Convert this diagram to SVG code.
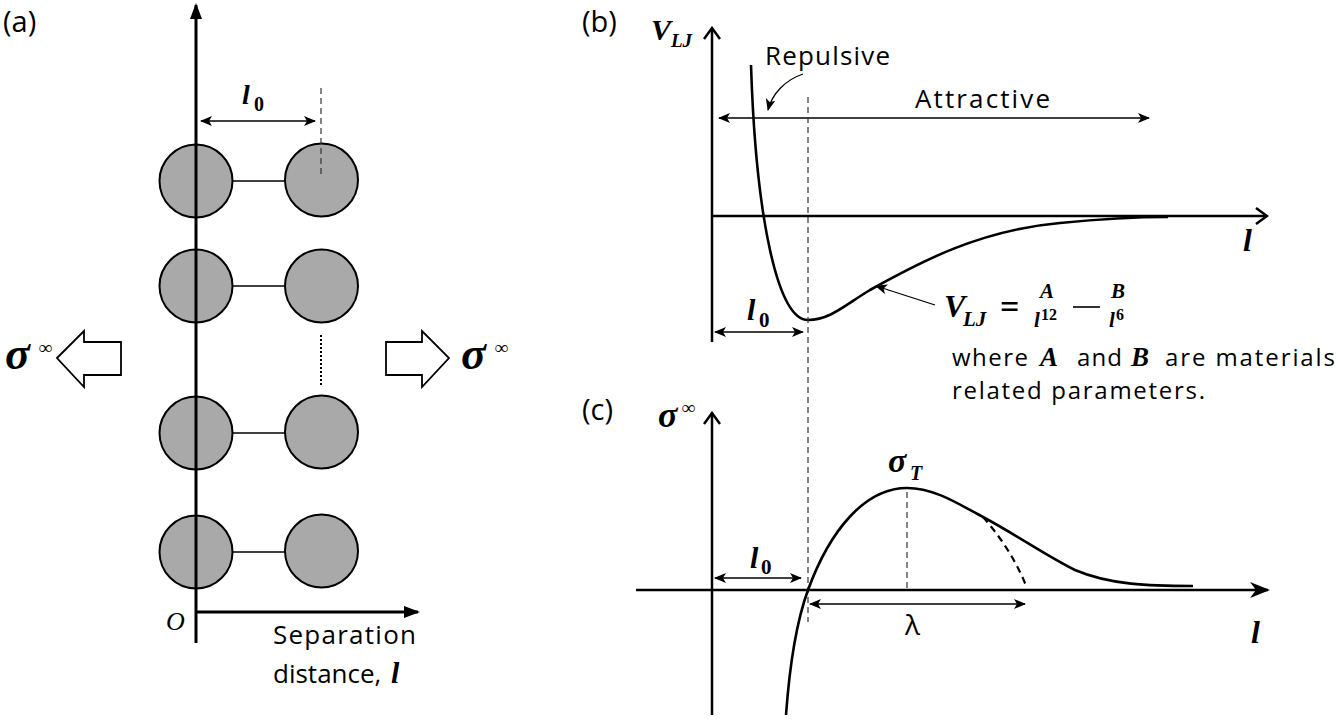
<svg xmlns="http://www.w3.org/2000/svg" width="1340" height="720" viewBox="0 0 1340 720">
<style>
.ax{stroke:#000;stroke-width:3;fill:none}
.ax2{stroke:#000;stroke-width:2.5;fill:none}
.dim{stroke:#000;stroke-width:1.3;fill:none}
.dash{stroke:#333;stroke-width:1.2;fill:none;stroke-dasharray:6 4}
.curve{stroke:#000;stroke-width:2.6;fill:none}
.atom{fill:#a9a9a9;stroke:#000;stroke-width:2}
.bond{stroke:#000;stroke-width:1.6}
.lbl{font-family:"Open Sans","Noto Sans",sans-serif;fill:#000}
.m{font-family:"Liberation Serif",serif;font-weight:bold;font-style:italic;fill:#000}
.mu{font-family:"Liberation Serif",serif;font-weight:bold;fill:#000}
</style>
<defs>
<marker id="axA" markerUnits="userSpaceOnUse" markerWidth="16" markerHeight="14" viewBox="0 0 16 14" refX="14" refY="7" orient="auto"><path d="M0,1 L16,7 L0,13 Z" fill="#000"/></marker>
<marker id="chev" markerUnits="userSpaceOnUse" markerWidth="14" markerHeight="18" viewBox="0 0 14 18" refX="12" refY="9" orient="auto"><path d="M1,1 L12,9 L1,17" fill="none" stroke="#000" stroke-width="2.5"/></marker>
<marker id="stealth" markerUnits="userSpaceOnUse" markerWidth="20" markerHeight="16" viewBox="0 0 20 16" refX="18" refY="8" orient="auto"><path d="M0,0 L20,8 L0,16 L6,8 Z" fill="#000"/></marker>
<marker id="sm" markerUnits="userSpaceOnUse" markerWidth="12" markerHeight="10" viewBox="0 0 12 10" refX="11" refY="5" orient="auto-start-reverse"><path d="M0,0 L12,5 L0,10 L3,5 Z" fill="#000"/></marker>
</defs>
<rect width="1340" height="720" fill="#fff"/>

<g id="panel-a">
  <text class="lbl" x="3" y="32" font-size="29">(a)</text>
  <g id="atoms">
    <line class="bond" x1="233" y1="181" x2="285" y2="181"/>
    <line class="bond" x1="233" y1="286" x2="285" y2="286"/>
    <line class="bond" x1="233" y1="433" x2="285" y2="433"/>
    <line class="bond" x1="233" y1="552" x2="285" y2="552"/>
    <circle class="atom" cx="196" cy="181" r="36.5"/>
    <circle class="atom" cx="321.5" cy="180" r="36.5"/>
    <circle class="atom" cx="196" cy="286" r="36.5"/>
    <circle class="atom" cx="321.5" cy="286" r="36.5"/>
    <circle class="atom" cx="196" cy="433" r="36.5"/>
    <circle class="atom" cx="321.5" cy="432" r="36.5"/>
    <circle class="atom" cx="196" cy="552" r="36.5"/>
    <circle class="atom" cx="321.5" cy="551" r="36.5"/>
    <line x1="321" y1="335" x2="321" y2="386" stroke="#000" stroke-width="2" stroke-dasharray="2 2"/>
  </g>
  <g id="axes-a">
    <line class="ax" x1="196" y1="643" x2="196" y2="5" marker-end="url(#axA)"/>
    <line class="ax" x1="196" y1="612" x2="418" y2="612" marker-end="url(#axA)"/>
  </g>
  <line class="dash" x1="321" y1="88" x2="321" y2="178"/>
  <line class="dim" x1="201" y1="121" x2="315" y2="121" marker-start="url(#sm)" marker-end="url(#sm)"/>
  <text class="m" x="242" y="104" font-size="28">l</text><text class="mu" x="254" y="111" font-size="20">0</text>
  <text class="m" x="166" y="630" font-size="26" style="font-weight:normal">O</text>
  <text class="lbl" x="273" y="644" font-size="26" textLength="143">Separation</text>
  <text class="lbl" x="273" y="683" font-size="26">distance,</text>
  <text class="m" x="391" y="683" font-size="30">l</text>
  <g id="load-left">
    <polygon points="57,358 84,331 84,342 121,342 121,375 84,375 84,387" fill="#fff" stroke="#000" stroke-width="1.8"/>
    <text class="m" x="5" y="369" font-size="46">σ</text><text class="mu" x="39" y="354" font-size="19">∞</text>
  </g>
  <g id="load-right">
    <polygon points="386,342 422,342 422,331 449,358 422,387 422,375 386,375" fill="#fff" stroke="#000" stroke-width="1.8"/>
    <text class="m" x="461" y="369" font-size="46">σ</text><text class="mu" x="495" y="354" font-size="19">∞</text>
  </g>
</g>

<g id="panel-b">
  <text class="lbl" x="582" y="32" font-size="29">(b)</text>
  <g id="axes-b">
    <line class="ax2" x1="712" y1="342" x2="712" y2="28" marker-end="url(#chev)"/>
    <line class="ax2" x1="712" y1="216" x2="1267" y2="216" marker-end="url(#chev)"/>
  </g>
  <text class="m" x="651" y="40" font-size="30">V</text><text class="m" x="671" y="47" font-size="19">LJ</text>
  <text class="m" x="1243" y="251" font-size="32">l</text>
  <path class="curve" d="M751,65 C756,220 778,320 808,320 C830,320 845,305 870,290 C920,262 980,230 1060,223 C1100,219 1140,217 1168,217"/>
  <text class="lbl" x="765" y="65" font-size="26" textLength="125">Repulsive</text>
  <path class="dim" d="M803,74 C785,80 772,94 768,110" marker-end="url(#sm)"/>
  <line class="dim" x1="719" y1="118" x2="1149" y2="118" marker-start="url(#sm)" marker-end="url(#sm)"/>
  <text class="lbl" x="915" y="108" font-size="26" textLength="135">Attractive</text>
  <line class="dim" x1="715" y1="332" x2="803" y2="332" marker-start="url(#sm)" marker-end="url(#sm)"/>
  <text class="m" x="747" y="320" font-size="30">l</text><text class="mu" x="759" y="327" font-size="21">0</text>
  <line class="dim" x1="935" y1="305" x2="876" y2="286" marker-end="url(#sm)"/>
  <g id="formula">
    <text class="m" x="944" y="317" font-size="32">V</text><text class="m" x="963" y="326" font-size="21">LJ</text>
    <text class="mu" x="1000" y="318" font-size="34">=</text>
    <text class="m" x="1040" y="298" font-size="21">A</text>
    <text class="m" x="1034" y="327" font-size="21">l</text><text class="mu" x="1041" y="320" font-size="16">12</text>
    <line x1="1073" y1="307" x2="1100" y2="307" stroke="#000" stroke-width="1.6"/>
    <text class="m" x="1111" y="298" font-size="21">B</text>
    <text class="m" x="1109" y="327" font-size="21">l</text><text class="mu" x="1116" y="320" font-size="16">6</text>
  </g>
  <text class="lbl" x="952" y="366" font-size="24" textLength="76">where</text>
  <text class="m" x="1040" y="366" font-size="27">A</text>
  <text class="lbl" x="1077" y="366" font-size="24" textLength="45">and</text>
  <text class="m" x="1131" y="366" font-size="27">B</text>
  <text class="lbl" x="1165" y="366" font-size="24" textLength="170">are materials</text>
  <text class="lbl" x="952" y="399" font-size="24" textLength="253">related parameters.</text>
</g>

<line id="l0-guide" class="dash" x1="808" y1="97" x2="808" y2="622"/>

<g id="panel-c">
  <text class="lbl" x="582" y="420" font-size="29">(c)</text>
  <g id="axes-c">
    <line class="ax2" x1="712" y1="715" x2="712" y2="413" marker-end="url(#chev)"/>
    <line class="ax2" x1="636" y1="590" x2="1268" y2="590" marker-end="url(#stealth)"/>
  </g>
  <text class="m" x="658" y="427" font-size="36">σ</text><text class="mu" x="682" y="414" font-size="19">∞</text>
  <text class="m" x="1251" y="643" font-size="32">l</text>
  <path class="curve" d="M786,715 C790,660 797,620 808,590 C830,530 865,488 907,488 C935,488 960,505 983,517 C1020,537 1045,555 1075,570 C1110,585 1150,586 1193,586"/>
  <path d="M983,517 Q1012,550 1027,588" fill="none" stroke="#000" stroke-width="2.2" stroke-dasharray="7 5"/>
  <line class="dash" x1="907" y1="492" x2="907" y2="590"/>
  <text class="m" x="888" y="472" font-size="34">σ</text><text class="m" x="910" y="480" font-size="20">T</text>
  <line class="dim" x1="715" y1="578" x2="801" y2="578" marker-start="url(#sm)" marker-end="url(#sm)"/>
  <text class="m" x="750" y="568" font-size="30">l</text><text class="mu" x="761" y="574" font-size="21">0</text>
  <line class="dim" x1="810" y1="604" x2="1025" y2="604" marker-start="url(#sm)" marker-end="url(#sm)"/>
  <text class="lbl" x="905" y="635" font-size="28">λ</text>
</g>
</svg>
